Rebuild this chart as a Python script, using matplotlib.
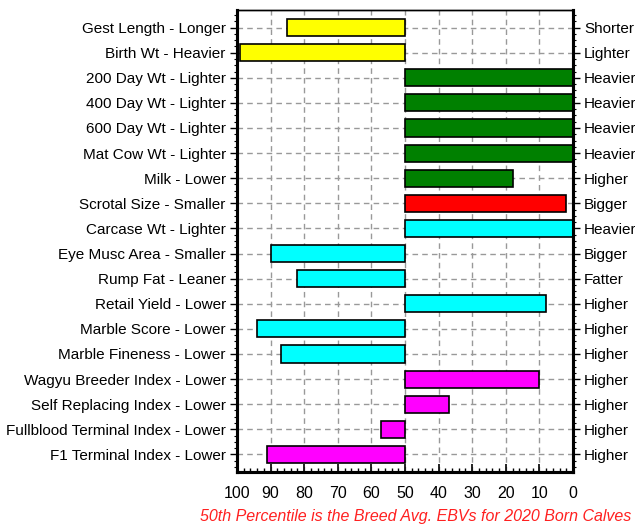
import matplotlib
matplotlib.use('Agg')
import matplotlib.pyplot as plt
from matplotlib.ticker import MultipleLocator

plt.rcParams['font.family'] = ['Liberation Sans', 'DejaVu Sans']

# traits, top to bottom
left_labels = ['Gest Length - Longer', 'Birth Wt - Heavier', '200 Day Wt - Lighter',
               '400 Day Wt - Lighter', '600 Day Wt - Lighter', 'Mat Cow Wt - Lighter',
               'Milk - Lower', 'Scrotal Size - Smaller', 'Carcase Wt - Lighter',
               'Eye Musc Area - Smaller', 'Rump Fat - Leaner', 'Retail Yield - Lower',
               'Marble Score - Lower', 'Marble Fineness - Lower', 'Wagyu Breeder Index - Lower',
               'Self Replacing Index - Lower', 'Fullblood Terminal Index - Lower',
               'F1 Terminal Index - Lower']
right_labels = ['Shorter', 'Lighter', 'Heavier', 'Heavier', 'Heavier', 'Heavier',
                'Higher', 'Bigger', 'Heavier', 'Bigger', 'Fatter', 'Higher',
                'Higher', 'Higher', 'Higher', 'Higher', 'Higher', 'Higher']
percentile = [85, 99, 0, 0, 0, 0, 18, 2, 0, 90, 82, 8, 94, 87, 10, 37, 57, 91]
colors = ['#ffff00', '#ffff00', '#008000', '#008000', '#008000', '#008000',
          '#008000', '#ff0000', '#00ffff', '#00ffff', '#00ffff', '#00ffff',
          '#00ffff', '#00ffff', '#ff00ff', '#ff00ff', '#ff00ff', '#ff00ff']
avg = 50

fig = plt.figure(figsize=(6.35, 5.31), dpi=100)
ax = fig.add_axes([0.3732, 0.1111, 0.5292, 0.8701])

ypos = list(range(len(left_labels)))
widths = [p - avg for p in percentile]
ax.barh(ypos, widths, left=avg, height=0.68, color=colors,
        edgecolor='black', linewidth=1.2, zorder=3)

ax.set_xlim(100, 0)
ax.set_ylim(len(left_labels) - 0.3, -0.7)

ax.set_xticks(range(0, 101, 10))
ax.xaxis.set_minor_locator(MultipleLocator(2))
ax.tick_params(axis='x', which='major', direction='in', length=6, width=1.2,
               labelsize=11.5, pad=10)
ax.tick_params(axis='x', which='minor', direction='in', length=3, width=1)

ax.set_yticks(ypos)
ax.set_yticklabels(left_labels, fontsize=11)
ax.yaxis.set_minor_locator(MultipleLocator(0.25))
ax.tick_params(axis='y', which='major', direction='out', length=5, width=1, pad=3)
ax.tick_params(axis='y', which='minor', direction='out', length=2, width=0.8)

ax2 = ax.twinx()
ax2.set_ylim(ax.get_ylim())
ax2.set_yticks(ypos)
ax2.set_yticklabels(right_labels, fontsize=11)
ax2.yaxis.set_minor_locator(MultipleLocator(0.25))
ax2.tick_params(axis='y', which='major', direction='out', length=5, width=1, pad=3)
ax2.tick_params(axis='y', which='minor', direction='out', length=2, width=0.8)

ax.grid(True, which='major', linestyle=(0, (4, 3)), color='#999999', linewidth=1, zorder=0)
ax.set_axisbelow(True)

for a in (ax, ax2):
    a.spines['left'].set_linewidth(2.2)
    a.spines['bottom'].set_linewidth(2.2)
    a.spines['right'].set_linewidth(2.2)
    a.spines['top'].set_linewidth(1)

fig.text(0.654, 0.018, '50th Percentile is the Breed Avg. EBVs for 2020 Born Calves',
         color='#ff2020', fontsize=11.5, style='italic', ha='center')

fig.savefig('out.png', dpi=100)
